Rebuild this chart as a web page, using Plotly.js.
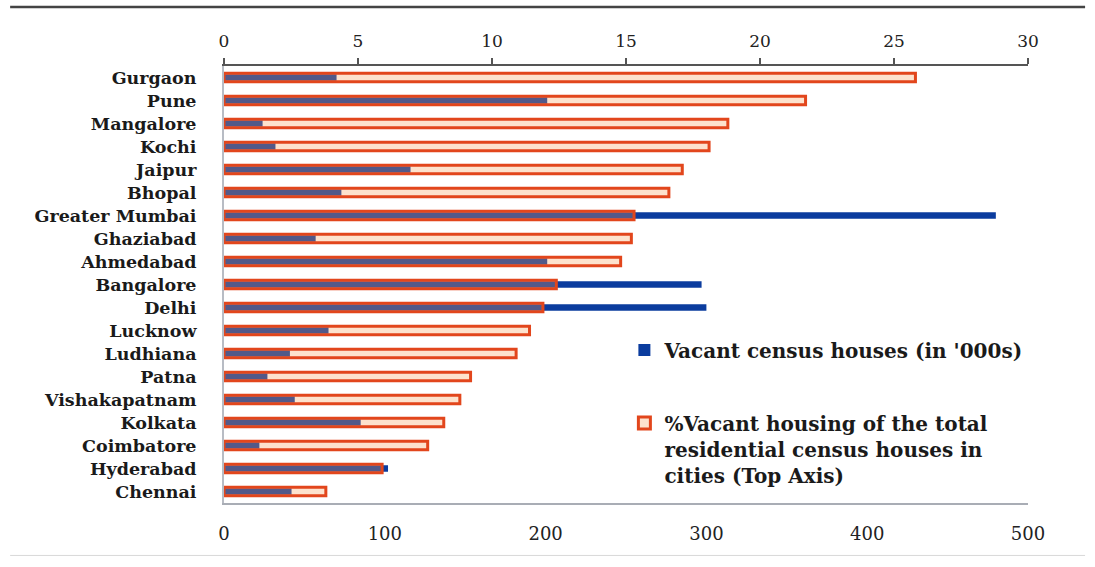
<!DOCTYPE html>
<html>
<head>
<meta charset="utf-8">
<script src="https://cdn.plot.ly/plotly-3.0.1.min.js"></script>
<style>html,body{margin:0;padding:0;background:#fff;}#chart{width:1095px;height:567px;}</style>
</head>
<body>
<div id="chart"></div>
<script>
const cities = ["Gurgaon","Pune","Mangalore","Kochi","Jaipur","Bhopal","Greater Mumbai","Ghaziabad","Ahmedabad","Bangalore","Delhi","Lucknow","Ludhiana","Patna","Vishakapatnam","Kolkata","Coimbatore","Hyderabad","Chennai"];
const vacantHouses = [70, 201, 24, 32, 116, 73, 480, 57, 201, 297, 300, 65, 41, 27, 44, 85, 22, 102, 42];
const vacantPct = [25.8, 21.7, 18.8, 18.1, 17.1, 16.6, 15.3, 15.2, 14.8, 12.4, 11.9, 11.4, 10.9, 9.2, 8.8, 8.2, 7.6, 5.9, 3.8];
const bottomTicks = [0, 100, 200, 300, 400, 500];
const topTicks = [0, 5, 10, 15, 20, 25, 30];

const serif = "DejaVu Serif, Liberation Serif, serif";

const traces = [
  {
    type: "bar", orientation: "h",
    y: cities, x: vacantHouses,
    xaxis: "x", yaxis: "y",
    name: "Vacant census houses (in '000s)",
    width: 0.28,
    marker: {color: "#0b3c9e"},
    legendgroup: "a",
    hoverinfo: "x+y"
  },
  {
    type: "bar", orientation: "h",
    y: cities, x: vacantPct,
    xaxis: "x2", yaxis: "y",
    name: "%Vacant housing of the total<br>residential census houses in<br>cities (Top Axis)",
    width: 0.36,
    marker: {color: "rgba(250,160,90,0.3)", line: {color: "#e2461c", width: 3}},
    legendgroup: "b",
    hoverinfo: "x+y"
  }
];

const layout = {
  width: 1095, height: 567,
  margin: {l: 224, r: 67, t: 66, b: 64},
  paper_bgcolor: "#fff", plot_bgcolor: "#fff",
  barmode: "overlay",
  showlegend: true,
  font: {family: serif, color: "#222"},
  xaxis: {
    range: [0, 500], tickvals: bottomTicks, ticktext: bottomTicks.map(String),
    showgrid: false, zeroline: false,
    showline: true, linecolor: "#a9adb5", linewidth: 2,
    ticks: "", ticklabelstandoff: 13,
    tickfont: {family: serif, size: 18, color: "#222"}
  },
  xaxis2: {
    range: [0, 30], tickvals: topTicks, ticktext: topTicks.map(String),
    overlaying: "x", side: "top", anchor: "y",
    showgrid: false, zeroline: false,
    showline: true, linecolor: "#555", linewidth: 2,
    ticks: "outside", ticklen: 6, tickwidth: 1.5, tickcolor: "#555",
    ticklabelstandoff: 4,
    tickfont: {family: serif, size: 17, color: "#222"}
  },
  yaxis: {
    type: "category", categoryorder: "array", categoryarray: cities,
    autorange: "reversed",
    showgrid: false, zeroline: false,
    showline: true, linecolor: "#b8bcc4", linewidth: 2,
    ticks: "", ticklabelstandoff: 22,
    tickfont: {family: serif, size: 17.5, color: "#1a1a1a", weight: "bold"}
  },
  legend: {
    x: 0.498, xanchor: "left", y: 0.395, yanchor: "top",
    bgcolor: "rgba(0,0,0,0)",
    font: {family: serif, size: 20, color: "#1a1a1a", weight: "bold"},
    traceorder: "grouped", tracegroupgap: 44,
    valign: "top",
    itemwidth: 30
  },
  shapes: [
    {type: "line", xref: "paper", yref: "paper", x0: -0.266, x1: 1.071, y0: 1.135, y1: 1.135, line: {color: "#444", width: 2.5}},
    {type: "line", xref: "paper", yref: "paper", x0: -0.266, x1: 1.071, y0: -0.12, y1: -0.12, line: {color: "#d8d8d8", width: 1}}
  ]
};

Plotly.newPlot("chart", traces, layout, {displayModeBar: false, staticPlot: true});
</script>
</body>
</html>
